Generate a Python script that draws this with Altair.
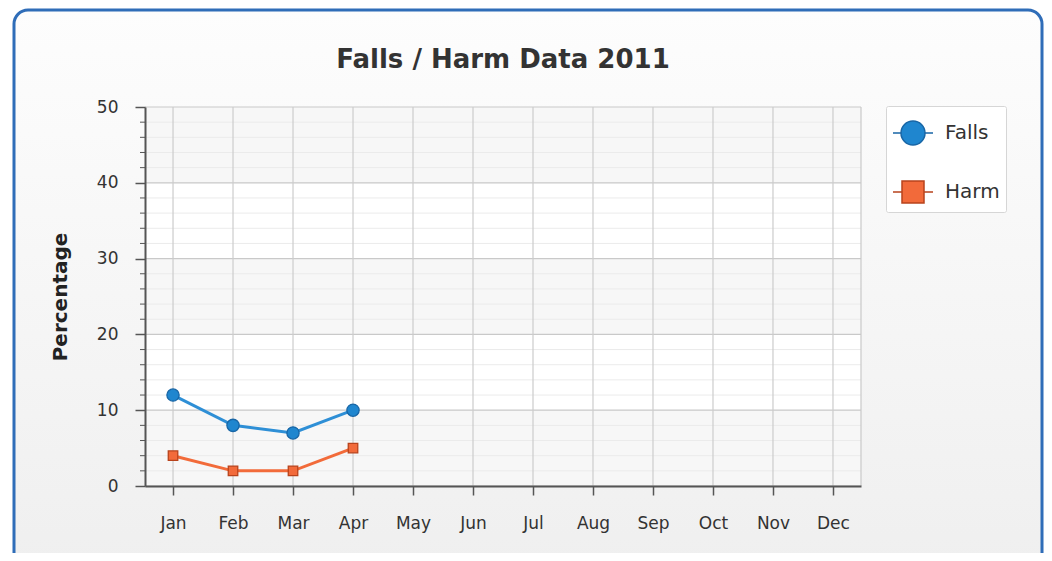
import altair as alt
import pandas as pd

# ---- data ----
months = ["Jan", "Feb", "Mar", "Apr", "May", "Jun", "Jul", "Aug", "Sep", "Oct", "Nov", "Dec"]
data_months = ["Jan", "Feb", "Mar", "Apr"]
falls = [12, 8, 7, 10]
harm = [4, 2, 2, 5]
series = ["Falls", "Harm"]
line_colors = ["#2E8FD6", "#F26B3A"]
fill_colors = ["#1F86CF", "#F26A3A"]
edge_colors = ["#1866A6", "#B8431C"]
y_major = [0, 10, 20, 30, 40, 50]
y_minor = [2, 4, 6, 8, 12, 14, 16, 18, 22, 24, 26, 28, 32, 34, 36, 38, 42, 44, 46, 48]
band_lo = [0, 10, 20, 30, 40]
band_hi = [10, 20, 30, 40, 50]
band_fill = ["#F7F7F7", "#FFFFFF", "#F7F7F7", "#FFFFFF", "#F7F7F7"]

W, H = 716, 379
FONT = "DejaVu Sans"

df = pd.DataFrame({
    "month": data_months * 2,
    "value": falls + harm,
    "series": ["Falls"] * len(falls) + ["Harm"] * len(harm),
})
bands_df = pd.DataFrame({"lo": band_lo, "hi": band_hi, "fill": band_fill})
minor_df = pd.DataFrame({"v": y_minor})
major_df = pd.DataFrame({"v": y_major})
months_df = pd.DataFrame({"m": months})
one_df = pd.DataFrame({"k": [0]})

xscale = alt.Scale(domain=months, type="point", padding=0.467)
yscale = alt.Scale(domain=[0, 50], nice=False, zero=True)

x_axis = alt.Axis(
    title=None, grid=False, zindex=2, domainColor="#555555", domainWidth=2,
    tickColor="#555555", tickSize=9, tickWidth=1.5,
    labelFontSize=17, labelColor="#333333", labelFont=FONT, labelPadding=20, labelAngle=0)
y_axis = alt.Axis(
    values=y_major, grid=False, zindex=2, title="Percentage",
    titleFontSize=20, titleFontWeight="bold", titleColor="#222222", titleFont=FONT,
    titleX=-85, titleY=H / 2, titleAngle=270, titleAlign="center", titleBaseline="middle",
    domainColor="#555555", domainWidth=2, tickColor="#555555", tickSize=10, tickWidth=1.5,
    labelFontSize=17, labelPadding=17, labelColor="#333333", labelFont=FONT)

circle_path = "M-1,0L-0.6,0M0.6,0L1,0M0.6,0A0.6,0.6,0,1,1,-0.6,0A0.6,0.6,0,1,1,0.6,0Z"
square_path = "M-1,0L-0.55,0M0.55,0L1,0M-0.55,-0.55L0.55,-0.55L0.55,0.55L-0.55,0.55Z"

legend = alt.Legend(
    title=None, orient="none", legendX=741, legendY=-1,
    fillColor="#FFFFFF", strokeColor="#D6D6D6", cornerRadius=2,
    padding=6, rowPadding=23, symbolSize=1600, symbolStrokeWidth=1.5, symbolOpacity=1,
    labelFontSize=20, labelColor="#333333", labelFont=FONT, labelOffset=11,
)

frame = alt.Chart(one_df).mark_rect(
    cornerRadius=14, stroke="#2F6DB8", strokeWidth=3,
    fill=alt.Gradient(gradient="linear",
                      stops=[alt.GradientStop(color="#FDFDFD", offset=0),
                             alt.GradientStop(color="#EFEFEF", offset=1)],
                      x1=0, x2=0, y1=0, y2=1),
).encode(x=alt.value(-131), x2=alt.value(897), y=alt.value(-97), y2=alt.value(470))

bands = alt.Chart(bands_df).mark_rect().encode(
    y=alt.Y("lo:Q", scale=yscale, axis=y_axis), y2="hi:Q",
    x=alt.value(0), x2=alt.value(W),
    fill=alt.Fill("fill:N", scale=None),
)

minor_grid = alt.Chart(minor_df).mark_rule(color="#EBEBEB", strokeWidth=1).encode(
    y=alt.Y("v:Q", scale=yscale, axis=y_axis), x=alt.value(0), x2=alt.value(W))
minor_ticks = alt.Chart(minor_df).mark_rule(color="#555555", strokeWidth=1).encode(
    y=alt.Y("v:Q", scale=yscale, axis=y_axis), x=alt.value(-5), x2=alt.value(0))
major_grid = alt.Chart(major_df).mark_rule(color="#C9C9C9", strokeWidth=1.2).encode(
    y=alt.Y("v:Q", scale=yscale, axis=y_axis), x=alt.value(0), x2=alt.value(W))
vert_grid = alt.Chart(months_df).mark_rule(color="#CCCCCC", strokeWidth=1.2).encode(
    x=alt.X("m:N", scale=xscale, axis=x_axis), y=alt.value(0), y2=alt.value(H))
right_edge = alt.Chart(one_df).mark_rule(color="#C9C9C9", strokeWidth=1.2).encode(
    x=alt.value(W), y=alt.value(0), y2=alt.value(H))

lines = alt.Chart(df).mark_line(strokeWidth=3).encode(
    x=alt.X("month:N", scale=xscale, axis=x_axis),
    y=alt.Y("value:Q", scale=yscale, axis=y_axis),
    color=alt.Color("series:N", scale=alt.Scale(domain=series, range=line_colors), legend=None))
points = alt.Chart(df).mark_point(filled=True, opacity=1, strokeWidth=1.3).encode(
    x=alt.X("month:N", scale=xscale, axis=x_axis),
    y=alt.Y("value:Q", scale=yscale, axis=y_axis),
    color=alt.Color("series:N", scale=alt.Scale(domain=series, range=fill_colors), legend=None),
    stroke=alt.Stroke("series:N", scale=alt.Scale(domain=series, range=edge_colors), legend=None),
    shape=alt.Shape("series:N", scale=alt.Scale(domain=series, range=["circle", "square"]), legend=None),
    size=alt.Size("series:N", scale=alt.Scale(domain=series, range=[150, 90]), legend=None),
)
# legend-only layer (no marks drawn: filtered to empty)
legend_layer = alt.Chart(df).transform_filter("false").mark_point(filled=True, opacity=1).encode(
    x=alt.X("month:N", scale=xscale, axis=x_axis),
    y=alt.Y("value:Q", scale=yscale, axis=y_axis),
    color=alt.Color("series:N", scale=alt.Scale(domain=series, range=fill_colors), legend=legend),
    stroke=alt.Stroke("series:N", scale=alt.Scale(domain=series, range=edge_colors), legend=legend),
    shape=alt.Shape("series:N", scale=alt.Scale(domain=series, range=[circle_path, square_path]), legend=legend),
)

chart = alt.layer(
    frame, bands, minor_grid, major_grid, vert_grid, right_edge, minor_ticks, lines, points, legend_layer
).resolve_scale(
    color="independent", shape="independent", stroke="independent"
).properties(
    width=W, height=H,
    autosize=alt.AutoSizeParams(type="none"),
    padding={"left": 137, "top": 99, "right": 183, "bottom": 67},
    background="white",
    title=alt.Title("Falls / Harm Data 2011", fontSize=26, fontWeight="bold", color="#333333",
                    font=FONT, anchor="middle", frame="group", baseline="alphabetic", offset=-85),
).configure_view(stroke=None)

chart.save("out.html", embed_options={"renderer": "svg", "actions": False})
